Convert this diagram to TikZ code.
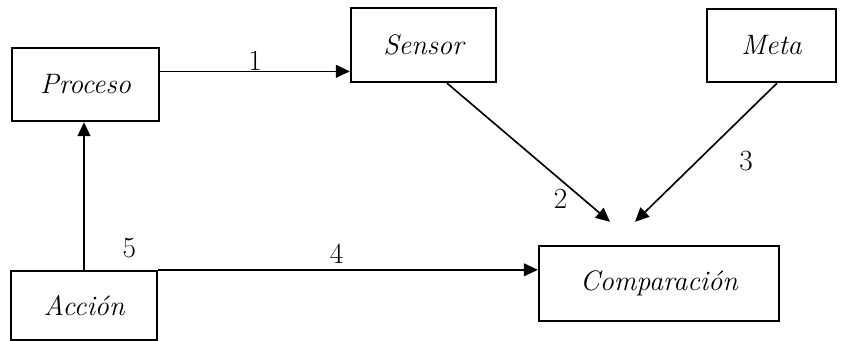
\documentclass[tikz,border=0pt]{standalone}
\usepackage{tikz}
\usetikzlibrary{arrows.meta, positioning, calc}

\begin{document}
\begin{tikzpicture}[
    x=0.03cm, y=-0.03cm,
    bloque/.style={draw, line width=2pt, inner sep=0pt,
                   font=\fontsize{24}{28}\selectfont\itshape},
    flecha/.style={-{Triangle[length=12pt, width=11pt]}, line width=1.4pt},
    lbl/.style={font=\fontsize{25}{30}\selectfont, inner sep=1pt},
]
    \useasboundingbox (0,0) rectangle (843,341);

    % bloques del lazo de control
    \node[bloque, minimum width=4.41cm, minimum height=2.19cm] (proceso) at (85.5,84.5) {Proceso};
    \node[bloque, minimum width=4.35cm, minimum height=2.22cm] (sensor) at (423.5,45) {Sensor};
    \node[bloque, minimum width=3.87cm, minimum height=2.19cm] (meta) at (771.5,45.5) {Meta};
    \node[bloque, minimum width=7.2cm, minimum height=2.25cm] (comp) at (659,283.5) {Comparación};
    \node[bloque, minimum width=4.38cm, minimum height=2.07cm] (accion) at (84,305.5) {Acción};

    % puntas libres de las flechas 2 y 3
    \coordinate (p2) at ($(comp.north)+(-49,-23)$);
    \coordinate (p3) at ($(comp.north)+(-24,-23)$);

    \draw[flecha] (proceso.10) -- node[lbl, midway, above=0pt, inner sep=0pt] {1} (proceso.10 -| sensor.west);
    \draw[flecha] ($(sensor.south)+(23.5,0)$) -- node[lbl, pos=0.75, below left] {2} (p2);
    \draw[flecha] ($(meta.south)+(5.5,0)$) -- node[lbl, pos=0.56, right=1.2cm] {3} (p3);
    \draw[flecha] (accion.north east) -- node[lbl, pos=0.47, above=4pt] {4} (accion.north east -| comp.west);
    \draw[flecha] (accion.north) -- node[lbl, pos=0.15, right=1.1cm] {5} (accion.north |- proceso.south);
\end{tikzpicture}
\end{document}
